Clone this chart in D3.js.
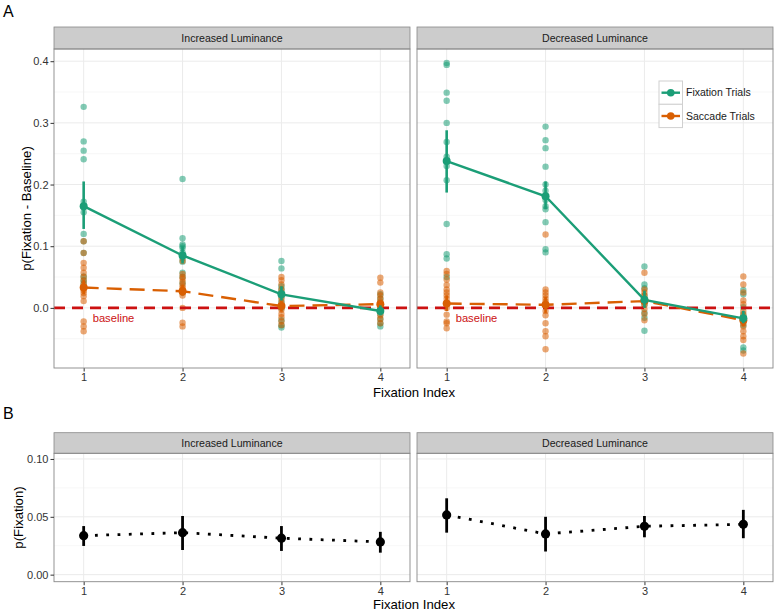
<!DOCTYPE html>
<html>
<head>
<meta charset="utf-8">
<script src="https://cdn.jsdelivr.net/npm/d3@7"></script>
<style>
  body { margin: 0; background: #fff; }
  text { font-family: "Liberation Sans", Arial, sans-serif; }
</style>
</head>
<body>
<div id="chart"></div>
<script>
// ---- data ----
const fixIndex = [1, 2, 3, 4];
const panelNames = ["Increased Luminance", "Decreased Luminance"];
const seriesNames = ["Fixation Trials", "Saccade Trials"];
const yTicksA = [0.0, 0.1, 0.2, 0.3, 0.4];
const yTicksB = [0.00, 0.05, 0.10];

// panel A: means and 95% CI (fixation - baseline)
const incFixMean = [0.165, 0.085, 0.022, -0.005];
const incFixLo   = [0.128, 0.072, 0.012, -0.012];
const incFixHi   = [0.205, 0.100, 0.035, 0.004];
const incSacMean = [0.033, 0.027, 0.003, 0.006];
const incSacLo   = [0.022, 0.020, -0.006, -0.002];
const incSacHi   = [0.045, 0.037, 0.012, 0.012];
const decFixMean = [0.238, 0.181, 0.013, -0.017];
const decFixLo   = [0.187, 0.160, 0.000, -0.025];
const decFixHi   = [0.288, 0.205, 0.028, -0.005];
const decSacMean = [0.007, 0.005, 0.011, -0.020];
const decSacLo   = [-0.005, -0.008, 0.000, -0.030];
const decSacHi   = [0.020, 0.018, 0.025, -0.010];

// panel A: individual subjects
const incFixPts = [
  [0.326, 0.27, 0.255, 0.241, 0.172, 0.163, 0.155, 0.12, 0.108, 0.089, 0.051, 0.045, 0.04],
  [0.209, 0.113, 0.103, 0.1, 0.097, 0.09, 0.085, 0.08, 0.075, 0.057, 0.05, 0.04, 0.025],
  [0.076, 0.064, 0.035, 0.03, 0.025, 0.018, 0.01, 0.0, -0.02, -0.028, -0.032],
  [0.022, 0.015, 0.008, 0.0, -0.004, -0.01, -0.018, -0.025, -0.03]
];
const incSacPts = [
  [0.108, 0.089, 0.073, 0.065, 0.057, 0.05, 0.044, 0.038, 0.033, 0.028, 0.024, 0.019, 0.011, -0.022, -0.03, -0.038],
  [0.076, 0.055, 0.05, 0.047, 0.042, 0.037, 0.033, 0.03, 0.025, 0.02, 0.0, -0.024, -0.03],
  [0.05, 0.045, 0.038, 0.03, 0.022, 0.015, 0.008, 0.003, -0.003, -0.01, -0.015, -0.022, -0.028],
  [0.049, 0.041, 0.025, 0.02, 0.015, 0.01, 0.006, 0.0, -0.005, -0.012, -0.018, -0.025]
];
const decFixPts = [
  [0.397, 0.394, 0.349, 0.336, 0.3, 0.269, 0.245, 0.23, 0.207, 0.136, 0.087, 0.08, 0.05],
  [0.294, 0.272, 0.259, 0.229, 0.2, 0.19, 0.175, 0.165, 0.16, 0.139, 0.095, 0.09],
  [0.067, 0.038, 0.032, 0.02, 0.013, 0.005, -0.008, -0.016, -0.037],
  [0.029, 0.022, 0.001, -0.01, -0.016, -0.022, -0.028, -0.064, -0.069]
];
const decSacPts = [
  [0.06, 0.055, 0.046, 0.037, 0.03, 0.025, 0.02, 0.015, 0.007, 0.0, -0.011, -0.022, -0.025, -0.033],
  [0.119, 0.03, 0.025, 0.02, 0.015, 0.01, 0.004, -0.005, -0.012, -0.025, -0.038, -0.046, -0.067],
  [0.057, 0.03, 0.025, 0.02, 0.015, 0.01, 0.005, -0.002, -0.01, -0.02],
  [0.051, 0.038, 0.025, 0.012, 0.006, -0.005, -0.012, -0.018, -0.025, -0.03, -0.038, -0.046, -0.052, -0.074]
];

// panel B: p(Fixation)
const incPMean = [0.0337, 0.0363, 0.0315, 0.0283];
const incPLo   = [0.0248, 0.0213, 0.0205, 0.019];
const incPHi   = [0.042, 0.0507, 0.042, 0.037];
const decPMean = [0.0516, 0.0352, 0.0418, 0.0435];
const decPLo   = [0.0363, 0.020, 0.0323, 0.0315];
const decPHi   = [0.066, 0.050, 0.0507, 0.056];

// ---- layout ----
const W = 778, H = 612;
const green = "#1b9e77", orange = "#d95f02", red = "#cc1111";
const panelX = [[54, 410], [417, 773]];
const A = {stripTop: 27, top: 49, bottom: 368};
const B = {stripTop: 432.7, top: 453.3, bottom: 581.7};

const svg = d3.select("#chart").append("svg")
  .attr("width", W).attr("height", H);

const yA = d3.scaleLinear().domain([-0.0975, 0.4198]).range([A.bottom, A.top]);
const yB = d3.scaleLinear().domain([-0.0061, 0.1049]).range([B.bottom, B.top]);
const xScales = panelX.map(r => d3.scaleLinear().domain([0.7, 4.3]).range(r));

function drawFrame(box, y, yMinor, name, x) {
  const g = svg.append("g");
  const r = x.range();
  g.append("rect").attr("x", r[0]).attr("y", box.top)
    .attr("width", r[1] - r[0]).attr("height", box.bottom - box.top).attr("fill", "#fff");
  g.selectAll("line.minor").data(yMinor).join("line")
    .attr("x1", r[0]).attr("x2", r[1])
    .attr("y1", d => y(d)).attr("y2", d => y(d))
    .attr("stroke", "#f2f2f2").attr("stroke-width", 0.6);
  g.selectAll("line.majy").data(y === yA ? yTicksA : yTicksB).join("line")
    .attr("x1", r[0]).attr("x2", r[1])
    .attr("y1", d => y(d)).attr("y2", d => y(d))
    .attr("stroke", "#ebebeb").attr("stroke-width", 1);
  g.selectAll("line.majx").data(fixIndex).join("line")
    .attr("x1", d => x(d)).attr("x2", d => x(d))
    .attr("y1", box.top).attr("y2", box.bottom)
    .attr("stroke", "#ebebeb").attr("stroke-width", 1);
  // strip
  g.append("rect").attr("x", r[0]).attr("y", box.stripTop)
    .attr("width", r[1] - r[0]).attr("height", box.top - box.stripTop)
    .attr("fill", "#cccccc").attr("stroke", "#888").attr("stroke-width", 0.8);
  g.append("text").attr("x", (r[0] + r[1]) / 2).attr("y", (box.stripTop + box.top) / 2)
    .attr("dy", "0.35em").attr("text-anchor", "middle")
    .attr("font-size", 10.6).attr("fill", "#1a1a1a").text(name);
  // x axis
  const ax = svg.append("g").attr("transform", `translate(0,${box.bottom})`)
    .call(d3.axisBottom(x).tickValues(fixIndex).tickSize(3.5).tickPadding(2).tickFormat(d3.format("d")));
  ax.select(".domain").remove();
  ax.selectAll("line").attr("stroke", "#333");
  ax.selectAll("text").attr("font-size", 11).attr("fill", "#333");
}

function drawBorder(box, x) {
  const r = x.range();
  svg.append("rect").attr("x", r[0]).attr("y", box.top)
    .attr("width", r[1] - r[0]).attr("height", box.bottom - box.top)
    .attr("fill", "none").attr("stroke", "#888").attr("stroke-width", 0.9);
}

function yAxis(box, y, ticks, fmt) {
  const ay = svg.append("g").attr("transform", `translate(${panelX[0][0]},0)`)
    .call(d3.axisLeft(y).tickValues(ticks).tickSize(3.5).tickPadding(2).tickFormat(d3.format(fmt)));
  ay.select(".domain").remove();
  ay.selectAll("line").attr("stroke", "#333");
  ay.selectAll("text").attr("font-size", 11).attr("fill", "#333");
}

// ---- panel A ----
const aData = [
  {fixMean: incFixMean, fixLo: incFixLo, fixHi: incFixHi, sacMean: incSacMean, sacLo: incSacLo, sacHi: incSacHi, fixPts: incFixPts, sacPts: incSacPts},
  {fixMean: decFixMean, fixLo: decFixLo, fixHi: decFixHi, sacMean: decSacMean, sacLo: decSacLo, sacHi: decSacHi, fixPts: decFixPts, sacPts: decSacPts}
];

aData.forEach((p, i) => {
  const x = xScales[i];
  drawFrame(A, yA, [-0.05, 0.05, 0.15, 0.25, 0.35], panelNames[i], x);
  const g = svg.append("g");
  const pts = [];
  p.fixPts.forEach((vals, k) => vals.forEach(v => pts.push({x: fixIndex[k], v, c: green})));
  p.sacPts.forEach((vals, k) => vals.forEach(v => pts.push({x: fixIndex[k], v, c: orange})));
  g.selectAll("circle.pt").data(pts).join("circle")
    .attr("cx", d => x(d.x)).attr("cy", d => yA(d.v)).attr("r", 3.2)
    .attr("fill", d => d.c).attr("fill-opacity", 0.55);
  // baseline
  g.append("line").attr("x1", x.range()[0]).attr("x2", x.range()[1])
    .attr("y1", yA(0)).attr("y2", yA(0))
    .attr("stroke", red).attr("stroke-width", 2.6).attr("stroke-dasharray", "11,7");
  g.append("text").attr("x", x(1) + 9).attr("y", yA(0) + 10).attr("dy", "0.35em")
    .attr("font-size", 11.2).attr("fill", red).text("baseline");
  const line = d3.line().x((d, k) => x(fixIndex[k])).y(d => yA(d));
  g.append("path").attr("d", line(p.sacMean)).attr("fill", "none")
    .attr("stroke", orange).attr("stroke-width", 2.4).attr("stroke-dasharray", "15,8");
  g.append("path").attr("d", line(p.fixMean)).attr("fill", "none")
    .attr("stroke", green).attr("stroke-width", 2.4);
  [[p.sacMean, p.sacLo, p.sacHi, orange], [p.fixMean, p.fixLo, p.fixHi, green]].forEach(([m, lo, hi, c]) => {
    g.selectAll(null).data(fixIndex).join("line")
      .attr("x1", d => x(d)).attr("x2", d => x(d))
      .attr("y1", (d, k) => yA(lo[k])).attr("y2", (d, k) => yA(hi[k]))
      .attr("stroke", c).attr("stroke-width", 2.6);
    g.selectAll(null).data(fixIndex).join("circle")
      .attr("cx", d => x(d)).attr("cy", (d, k) => yA(m[k])).attr("r", 4).attr("fill", c);
  });
  drawBorder(A, x);
});
yAxis(A, yA, yTicksA, ".1f");

// legend
const lg = svg.append("g").attr("transform", "translate(659,81)");
[green, orange].forEach((c, k) => {
  lg.append("rect").attr("x", 0).attr("y", k * 23.3).attr("width", 23.5).attr("height", 23.3)
    .attr("fill", "#fff").attr("stroke", "#d0d0d0").attr("stroke-width", 1);
  lg.append("line").attr("x1", 2.5).attr("x2", 21).attr("y1", k * 23.3 + 11.7).attr("y2", k * 23.3 + 11.7)
    .attr("stroke", c).attr("stroke-width", 2.4);
  lg.append("circle").attr("cx", 11.75).attr("cy", k * 23.3 + 11.7).attr("r", 3.8).attr("fill", c);
  lg.append("text").attr("x", 27).attr("y", k * 23.3 + 11.7).attr("dy", "0.35em")
    .attr("font-size", 10.5).attr("fill", "#1a1a1a").text(seriesNames[k]);
});

// ---- panel B ----
const bData = [
  {m: incPMean, lo: incPLo, hi: incPHi},
  {m: decPMean, lo: decPLo, hi: decPHi}
];
bData.forEach((p, i) => {
  const x = xScales[i];
  drawFrame(B, yB, [0.025, 0.075], panelNames[i], x);
  const g = svg.append("g");
  const line = d3.line().x((d, k) => x(fixIndex[k])).y(d => yB(d));
  g.append("path").attr("d", line(p.m)).attr("fill", "none")
    .attr("stroke", "#000").attr("stroke-width", 2.8).attr("stroke-dasharray", "2.8,8.5");
  g.selectAll(null).data(fixIndex).join("line")
    .attr("x1", d => x(d)).attr("x2", d => x(d))
    .attr("y1", (d, k) => yB(p.lo[k])).attr("y2", (d, k) => yB(p.hi[k]))
    .attr("stroke", "#000").attr("stroke-width", 2.8);
  g.selectAll(null).data(fixIndex).join("circle")
    .attr("cx", d => x(d)).attr("cy", (d, k) => yB(p.m[k])).attr("r", 4.6).attr("fill", "#000");
  drawBorder(B, x);
});
yAxis(B, yB, yTicksB, ".2f");

// titles
svg.append("text").attr("x", 414).attr("y", 392.5).attr("dy", "0.35em").attr("text-anchor", "middle")
  .attr("font-size", 13.2).text("Fixation Index");
svg.append("text").attr("x", 414).attr("y", 604).attr("dy", "0.35em").attr("text-anchor", "middle")
  .attr("font-size", 13.2).text("Fixation Index");
svg.append("text").attr("transform", `translate(26,${(A.top + A.bottom) / 2}) rotate(-90)`)
  .attr("dy", "0.35em").attr("text-anchor", "middle").attr("font-size", 13.2).text("p(Fixation - Baseline)");
svg.append("text").attr("transform", `translate(18.5,${(B.top + B.bottom) / 2}) rotate(-90)`)
  .attr("dy", "0.35em").attr("text-anchor", "middle").attr("font-size", 13.2).text("p(Fixation)");
svg.append("text").attr("x", 3).attr("y", 17).attr("font-size", 16).text("A");
svg.append("text").attr("x", 3).attr("y", 419).attr("font-size", 16).text("B");
</script>
</body>
</html>
